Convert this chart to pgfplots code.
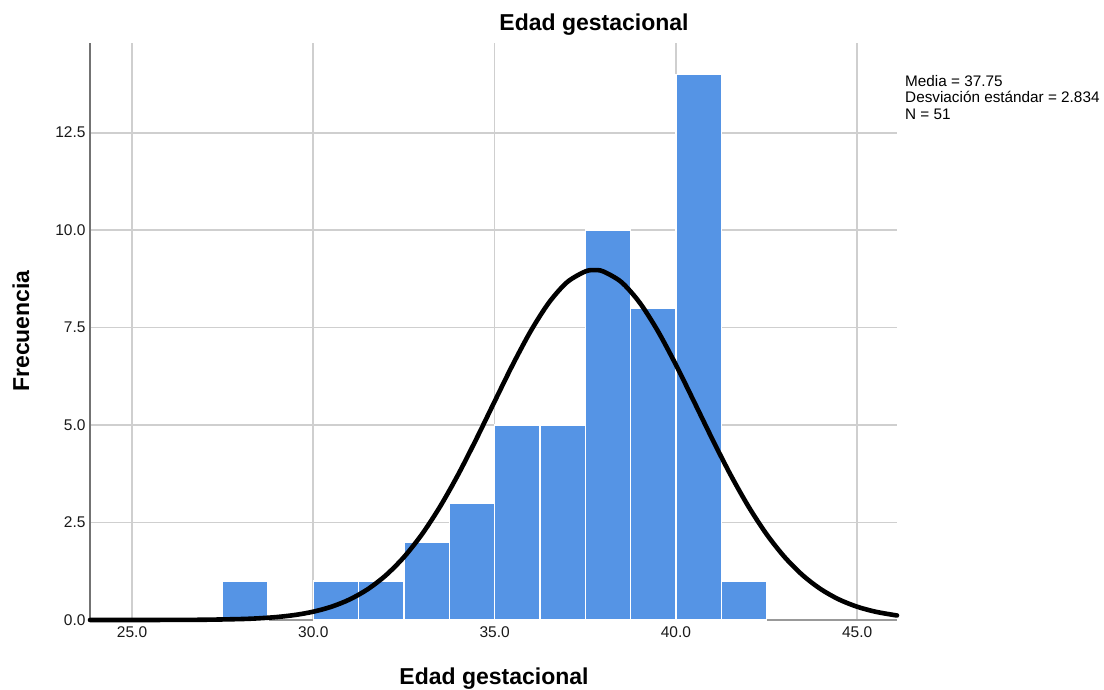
\documentclass[border=0pt]{standalone}
\usepackage{fontspec}
\setmainfont{Liberation Sans}
\usepackage{pgfplots}
\pgfplotsset{compat=1.18}
\definecolor{barblue}{HTML}{5594E5}
\definecolor{gridgray}{HTML}{CFCFCF}
\begin{document}
\begin{tikzpicture}[x=1bp,y=1bp]
\useasboundingbox (0,0) rectangle (1104,690);
\begin{axis}[
  at={(90bp,70bp)}, anchor=origin,
  scale only axis, width=807bp, height=577bp,
  xmin=23.84, xmax=46.1, ymin=0, ymax=14.8,
  axis x line*=bottom, axis y line*=left,
  x axis line style={draw=gray!80, line width=1.5bp, -},
  y axis line style={draw=gray!90!black, line width=1.8bp, -},
  xtick={25,30,35,40,45}, ytick={0,2.5,5,7.5,10,12.5},
  major tick length=0pt,
  xmajorgrids, ymajorgrids,
  grid style={gridgray, line width=1.8bp},
  /pgf/number format/fixed, /pgf/number format/fixed zerofill,
  /pgf/number format/precision=1,
  /pgf/number format/assume math mode=true,
  tick label style={font=\fontsize{15.5bp}{18bp}\selectfont, text=black!90},
  xticklabel style={yshift=-3bp},
  yticklabel style={xshift=-1bp},
  clip=false,
]
\addplot[ybar interval, fill=barblue, draw=white, line width=1.3bp] coordinates {(27.5,1)(28.75,1)};
\addplot[ybar interval, fill=barblue, draw=white, line width=1.3bp] coordinates {
(30,1)(31.25,1)(32.5,2)(33.75,3)(35,5)(36.25,5)(37.5,10)(38.75,8)(40,14)(41.25,1)(42.5,1)};
\addplot[black, line width=4.6bp, smooth, line cap=round] coordinates {
(23.84,0.00005)(24,0.0001)(25,0.0004)(26,0.0017)(27,0.0067)(28,0.0241)(28.5,0.0436)(29,0.0765)(29.5,0.1297)
(30,0.2134)(30.5,0.3404)(31,0.526)(31.5,0.789)(32,1.146)(32.5,1.614)(33,2.203)(33.5,2.915)
(34,3.739)(34.5,4.650)(35,5.604)(35.5,6.548)(36,7.416)(36.5,8.142)(37,8.665)(37.5,8.939)(37.75,8.974)
(38,8.939)(38.5,8.665)(39,8.142)(39.5,7.416)(40,6.548)(40.5,5.604)(41,4.650)(41.5,3.739)
(42,2.915)(42.5,2.203)(43,1.614)(43.5,1.146)(44,0.789)(44.5,0.526)(45,0.3404)(45.5,0.2134)(46,0.1297)(46.1,0.117)};
\end{axis}
\node[font=\fontsize{23bp}{26bp}\selectfont\bfseries] at (594,665) {Edad gestacional};
\node[font=\fontsize{23bp}{26bp}\selectfont\bfseries] at (494,11) {Edad gestacional};
\node[font=\fontsize{23bp}{26bp}\selectfont\bfseries, rotate=90] at (21,359) {Frecuencia};
\node[font=\fontsize{15.3bp}{16.5bp}\selectfont, anchor=north west, align=left, inner sep=0pt] at (905,615) {Media = 37.75\\Desviación estándar = 2.834\\N = 51};
\end{tikzpicture}
\end{document}
